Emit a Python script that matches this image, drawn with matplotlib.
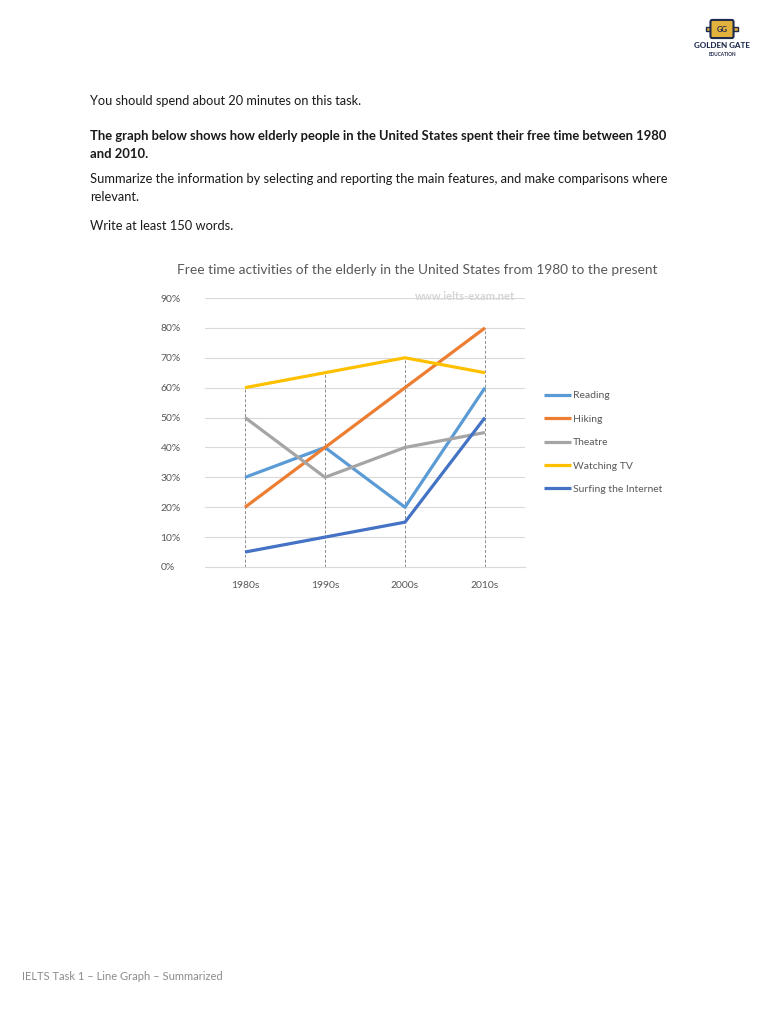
import numpy as np
import matplotlib.pyplot as plt
from matplotlib.patches import FancyBboxPatch

plt.rcParams['font.family'] = ['Lato', 'DejaVu Sans']

# chart data
decades = ['1980s', '1990s', '2000s', '2010s']
reading = [30, 40, 20, 60]
hiking = [20, 40, 60, 80]
theatre = [50, 30, 40, 45]
watching_tv = [60, 65, 70, 65]
internet = [5, 10, 15, 50]
series_names = ['Reading', 'Hiking', 'Theatre', 'Watching TV', 'Surfing the Internet']
series_colors = ['#5B9BD5', '#ED7D31', '#A5A5A5', '#FFC000', '#4472C4']
yticks = [0, 10, 20, 30, 40, 50, 60, 70, 80, 90]

W, H = 768, 1024
fig = plt.figure(figsize=(W / 100, H / 100), dpi=100)
fig.patch.set_facecolor('white')

def fx(x):
    return x / W

def fy(y):
    return 1 - y / H

# page text
txt = '#1a1a1a'
fs = 9.25
fig.text(fx(90), fy(101), 'You should spend about 20 minutes on this task.',
         fontsize=9.15, color=txt, va='center')
fig.text(fx(90), fy(136), 'The graph below shows how elderly people in the United States spent their free time between 1980',
         fontsize=9.4, color=txt, va='center', fontweight='bold')
fig.text(fx(90), fy(154), 'and 2010.', fontsize=9.4, color=txt, va='center', fontweight='bold')
fig.text(fx(90), fy(179), 'Summarize the information by selecting and reporting the main features, and make comparisons where',
         fontsize=fs, color=txt, va='center')
fig.text(fx(90), fy(197), 'relevant.', fontsize=fs, color=txt, va='center')
fig.text(fx(90), fy(226), 'Write at least 150 words.', fontsize=fs, color=txt, va='center')

fig.text(fx(22), fy(977), 'IELTS Task 1 \u2013 Line Graph \u2013 Summarized',
         fontsize=8, color='#8c8c8c', va='center')

# logo
navy = '#1f2a4d'
gold = '#e3b23c'
fig.patches.append(FancyBboxPatch((fx(712), fy(36)), fx(20), fy(22) - fy(36),
                                  boxstyle='round,pad=0.002', transform=fig.transFigure,
                                  facecolor=gold, edgecolor=navy, linewidth=1.5))
fig.patches.append(FancyBboxPatch((fx(706), fy(31)), fx(32), fy(27) - fy(31),
                                  boxstyle='square,pad=0', transform=fig.transFigure,
                                  facecolor=gold, edgecolor=navy, linewidth=1.0, zorder=0))
fig.text(fx(722), fy(29.5), 'GG', fontsize=5.5, color=navy, ha='center', va='center', fontweight='bold')
fig.text(fx(722), fy(45), 'GOLDEN GATE', fontsize=5.8, color=navy, ha='center', va='center', fontweight='black')
fig.text(fx(722), fy(54), 'EDUCATION', fontsize=3.4, color=navy, ha='center', va='center', fontweight='bold')

# chart
ax = fig.add_axes([fx(205), fy(567), fx(525) - fx(205), fy(298) - fy(567)])
x = np.arange(len(decades))
all_series = [reading, hiking, theatre, watching_tv, internet]

# drop lines
tops = np.max(np.array(all_series), axis=0)
for xi, t in zip(x, tops):
    ax.plot([xi, xi], [0, t], color='#8c8c8c', lw=0.7, ls=(0, (3, 2)), zorder=1)

for vals, name, col in zip(all_series, series_names, series_colors):
    ax.plot(x, vals, color=col, lw=2.3, label=name, zorder=3, solid_capstyle='butt')

ax.set_xlim(-0.5, 3.5)
ax.set_ylim(0, 90)
ax.set_yticks(yticks)
ax.set_yticklabels([f'{v}%' for v in yticks])
ax.set_xticks(x)
ax.set_xticklabels(decades)
ax.grid(axis='y', color='#d9d9d9', lw=0.8)
ax.set_axisbelow(True)
for s in ['top', 'right', 'left']:
    ax.spines[s].set_visible(False)
ax.spines['bottom'].set_color('#d9d9d9')
ax.tick_params(length=0, labelsize=7.5, colors='#595959')
ax.tick_params(axis='y', pad=32)
ax.tick_params(axis='x', pad=10)
for lab in ax.get_yticklabels():
    lab.set_horizontalalignment('left')

ax.set_title('Free time activities of the elderly in the United States from 1980 to the present',
             fontsize=9.9, color='#595959', x=0.663, y=1.06)
fig.text(fx(465), fy(296), 'www.ielts-exam.net', fontsize=8, color='#d5d5d5',
         ha='center', va='center', fontweight='bold')

fig.legend(loc='upper left', bbox_to_anchor=(fx(540), fy(387)), frameon=False,
           fontsize=7.5, labelcolor='#595959', handlelength=2.6, handletextpad=0.15,
           labelspacing=1.35, borderaxespad=0)

fig.savefig('out.png', dpi=100, facecolor='white')
